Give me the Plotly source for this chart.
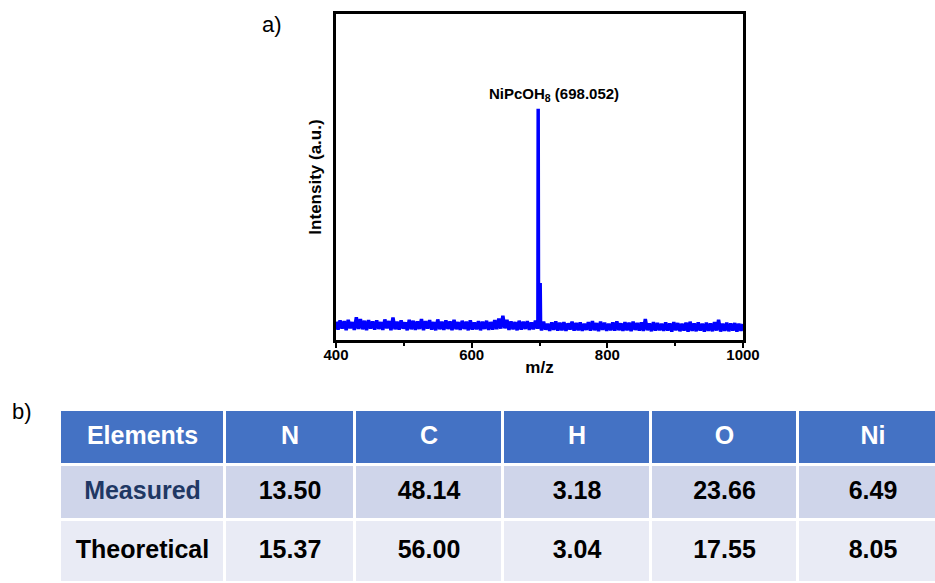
import plotly.graph_objects as go

# ---- Mass spectrum (panel a) ----
# baseline sampled every 3 m/z from 400 to 1000
baseline_mz = list(range(400, 1001, 3))
baseline_int = [
    5.6, 3.2, 6.0, 3.5, 5.8, 3.0, 6.2, 3.6, 5.5, 3.1, 7.0, 3.4, 6.4, 3.3, 5.9, 3.0, 6.1, 3.5, 5.7, 3.2,
    6.0, 3.4, 5.5, 3.1, 6.3, 3.6, 5.8, 3.0, 6.9, 3.3, 5.6, 3.2, 6.0, 3.5, 5.4, 3.0, 6.2, 3.3, 5.9, 3.1,
    5.7, 3.4, 6.4, 3.0, 5.8, 3.5, 6.1, 3.2, 5.5, 3.0, 6.3, 3.3, 5.6, 3.1, 6.0, 3.4, 5.7, 3.0, 6.2, 3.3,
    5.5, 3.1, 5.9, 3.4, 5.6, 3.0, 6.0, 3.2, 5.4, 3.3, 5.8, 3.0, 5.6, 3.4, 5.9, 3.1, 5.5, 3.2, 6.1, 3.3,
    6.6, 3.5, 7.4, 3.6, 6.2, 3.1, 5.7, 3.3, 5.5, 3.0, 5.9, 3.2, 5.6, 3.4, 5.8, 3.1, 5.4, 3.3, 5.9, 3.5,
    5.2, 3.0, 5.6, 3.2, 5.0, 2.8, 5.4, 3.1, 5.7, 2.9, 5.3, 3.0, 5.5, 2.8, 5.1, 3.2, 5.6, 2.9, 5.2, 3.0,
    5.4, 2.8, 5.0, 3.1, 5.5, 2.9, 5.8, 3.0, 5.2, 2.7, 5.6, 3.1, 5.3, 2.8, 5.0, 3.0, 5.4, 2.9, 5.7, 3.0,
    5.1, 2.8, 5.5, 3.0, 5.3, 2.7, 5.6, 3.1, 5.2, 2.9, 5.4, 2.8, 6.4, 3.0, 5.1, 2.7, 5.5, 2.9, 5.2, 3.0,
    5.0, 2.8, 5.4, 2.9, 5.1, 2.6, 5.5, 3.0, 5.2, 2.7, 5.0, 2.9, 5.3, 2.6, 5.6, 2.8, 5.1, 2.7, 5.4, 2.9,
    5.0, 2.6, 5.3, 2.8, 5.1, 2.7, 5.5, 2.9, 6.2, 2.6, 5.0, 2.8, 5.3, 2.7, 5.1, 2.9, 5.2, 2.6, 5.0, 2.8, 4.9,
]
# molecular ion peak and its isotope shoulder
peak_mz = [697.6, 698.052, 698.6, 700.4, 701.0, 701.6]
peak_int = [4.0, 70.9, 4.5, 5.0, 17.5, 4.2]
peak_label = "<b>NiPcOH<sub>8</sub> (698.052)</b>"
peak_label_mz = 722

spectrum = sorted(zip(baseline_mz + peak_mz, baseline_int + peak_int))
mz = [p[0] for p in spectrum]
intensity = [p[1] for p in spectrum]

# ---- Elemental analysis (panel b) ----
elements = ["N", "C", "H", "O", "Ni"]
measured = [13.50, 48.14, 3.18, 23.66, 6.49]
theoretical = [15.37, 56.00, 3.04, 17.55, 8.05]
row_labels = ["Measured", "Theoretical"]
header_label = "Elements"

W, H = 935, 583
FONT = "Liberation Sans, Arial, sans-serif"

# table geometry (column widths / row heights in px-like units)
col_widths = [165, 130, 148, 148, 147, 150]
row_heights = [55, 55, 63]
col_edges = [0]
for w in col_widths:
    col_edges.append(col_edges[-1] + w)
row_edges = [0]
for h in row_heights:
    row_edges.append(row_edges[-1] + h)
col_centers = [(a + b) / 2 for a, b in zip(col_edges[:-1], col_edges[1:])]
row_centers = [(a + b) / 2 for a, b in zip(row_edges[:-1], row_edges[1:])]

HEADER_FILL, ROW1_FILL, ROW2_FILL = "#4472C4", "#CFD5EA", "#E9EBF5"

fig = go.Figure()

fig.add_trace(go.Scatter(
    x=mz, y=intensity, mode="lines",
    line=dict(color="#0000FF", width=3.5),
    showlegend=False, hoverinfo="skip",
))

fig.add_annotation(
    x=peak_label_mz, y=max(peak_int), xref="x", yref="y",
    text=peak_label, showarrow=False, yanchor="bottom", yshift=3,
    font=dict(family=FONT, size=15, color="black"),
)

# cell backgrounds: one row of z per table row (0 header, 1 measured, 2 theoretical)
ncols = len(elements) + 1
fig.add_trace(go.Heatmap(
    x=col_edges, y=row_edges,
    z=[[0] * ncols, [1] * ncols, [2] * ncols],
    zmin=0, zmax=2,
    colorscale=[[0, HEADER_FILL], [0.5, ROW1_FILL], [1, ROW2_FILL]],
    showscale=False, xgap=3, ygap=3, hoverinfo="skip",
    xaxis="x2", yaxis="y2",
))

# cell texts
texts, tx, ty, tcol = [], [], [], []
header_row = [header_label] + elements
for j, h in enumerate(header_row):
    texts.append(f"<b>{h}</b>"); tx.append(col_centers[j]); ty.append(row_centers[0]); tcol.append("white")
for i, (label, vals) in enumerate(zip(row_labels, [measured, theoretical])):
    texts.append(f"<b>{label}</b>"); tx.append(col_centers[0]); ty.append(row_centers[i + 1])
    tcol.append("#1F3864" if label == "Measured" else "black")
    for j, v in enumerate(vals):
        texts.append(f"<b>{v:.2f}</b>"); tx.append(col_centers[j + 1]); ty.append(row_centers[i + 1])
        tcol.append("black")

fig.add_trace(go.Scatter(
    x=tx, y=ty, mode="text", text=texts, textposition="middle center",
    textfont=dict(family=FONT, size=25, color=tcol),
    showlegend=False, hoverinfo="skip", xaxis="x2", yaxis="y2",
))

fig.add_annotation(x=272 / W, y=1 - 24 / H, xref="paper", yref="paper",
                   xanchor="center", yanchor="middle",
                   text="a)", showarrow=False, font=dict(family=FONT, size=22, color="black"))
fig.add_annotation(x=22 / W, y=1 - 411 / H, xref="paper", yref="paper",
                   xanchor="center", yanchor="middle",
                   text="b)", showarrow=False, font=dict(family=FONT, size=22, color="black"))

fig.update_layout(
    width=W, height=H,
    margin=dict(l=0, r=0, t=0, b=0),
    paper_bgcolor="white", plot_bgcolor="white",
    font=dict(family=FONT, color="black"),
    xaxis=dict(
        domain=[336 / W, 743 / W], range=[400, 1000], automargin=False,
        tickvals=[400, 600, 800, 1000], ticktext=["<b>400</b>", "<b>600</b>", "<b>800</b>", "<b>1000</b>"],
        ticks="outside", ticklen=5, tickwidth=2, tickcolor="black", ticklabelstandoff=-6,
        minor=dict(tickvals=[500, 700, 900], ticks="outside", ticklen=3, tickwidth=2, tickcolor="black"),
        showline=True, linecolor="black", linewidth=2.5, mirror=True,
        showgrid=False, zeroline=False,
        tickfont=dict(family=FONT, size=15),
        title=dict(text="<b>m/z</b>", font=dict(family=FONT, size=17), standoff=0),
    ),
    yaxis=dict(
        domain=[1 - 340 / H, 1 - 14 / H], range=[0, 100], automargin=False,
        showticklabels=False, ticks="",
        showline=True, linecolor="black", linewidth=2.5, mirror=True,
        showgrid=False, zeroline=False,
        title=dict(text="<b>Intensity (a.u.)</b>", font=dict(family=FONT, size=17), standoff=8),
    ),
    xaxis2=dict(
        domain=[60 / W, 1], range=[0, W - 60], automargin=False,
        visible=False, showgrid=False, zeroline=False, fixedrange=True,
    ),
    yaxis2=dict(
        domain=[0, 1 - 410 / H], range=[H - 410, 0], automargin=False,
        visible=False, showgrid=False, zeroline=False, fixedrange=True,
    ),
)

fig.write_html("out.html")
